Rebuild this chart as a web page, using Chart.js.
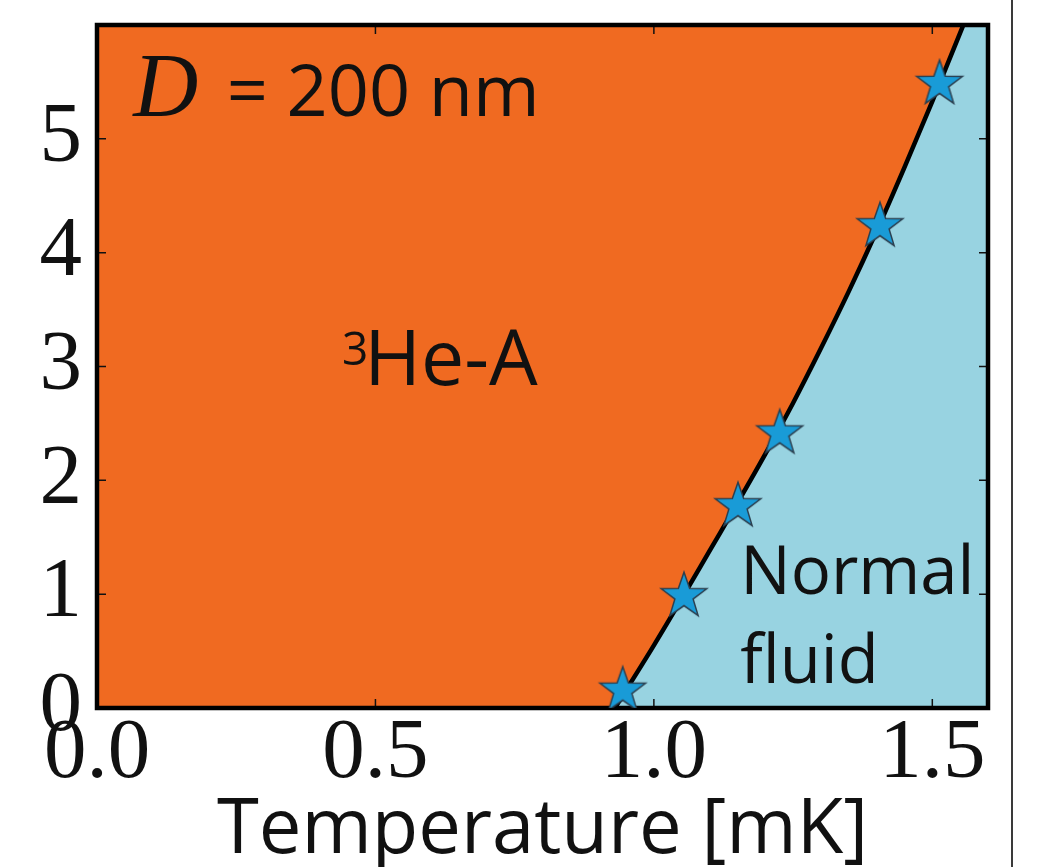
<!DOCTYPE html>
<html>
<head>
<meta charset="UTF-8">
<title>Phase diagram, D = 200 nm</title>
<script src="https://cdn.jsdelivr.net/npm/chart.js"></script>
<style>
    body { margin: 0; background: #fff; }
    #wrap { position: relative; width: 1046px; height: 867px; overflow: hidden; }
    #edge { position: absolute; left: 1011px; top: 0; width: 2px; height: 867px; background: #3a3a3a; }
</style>
</head>
<body>
<div id="wrap">
    <canvas id="phaseChart" width="1046" height="867"></canvas>
    <div id="edge"></div>
</div>
<script>
// phase boundary (T in mK, P in bar)
const curveT = [0.93, 1.00, 1.05, 1.10, 1.15, 1.20, 1.25, 1.30, 1.35, 1.40, 1.45, 1.50, 1.55, 1.60];
const curveP = [0.00, 0.55, 0.96, 1.38, 1.80, 2.23, 2.68, 3.16, 3.66, 4.19, 4.75, 5.33, 5.93, 6.54];

// measured transition points (stars)
const starT = [0.944, 1.054, 1.151, 1.226, 1.406, 1.513];
const starP = [0.17, 1.00, 1.79, 2.43, 4.25, 5.50];

const xTicks = [0.0, 0.5, 1.0, 1.5];
const yTicks = [0, 1, 2, 3, 4, 5];

const ORANGE = '#f06a21';
const BLUE = '#98d3e1';
const STAR = '#199bd7';

// text inside the plot, placed in data units
const notes = [
    { x: 0.065, y: 5.2, parts: [
        { text: 'D', font: 'italic 90px "Liberation Serif"' },
        { text: '= 200 nm', font: '72px "Open Sans"', at: 0.233 }
    ] },
    { x: 0.44, y: 2.84, parts: [
        { text: '3', font: '46px "Open Sans"', rise: 20 },
        { text: 'He-A', font: '77px "Open Sans"', at: 0.48 }
    ] },
    { x: 1.155, y: 1.0, parts: [{ text: 'Normal', font: '67px "Open Sans"' }] },
    { x: 1.155, y: 0.22, parts: [{ text: 'fluid', font: '67px "Open Sans"' }] }
];

// filled five point star used as the marker
function makeStar(r) {
    const c = document.createElement('canvas');
    const size = Math.ceil(r * 2 + 4);
    c.width = size; c.height = size;
    const g = c.getContext('2d');
    const cx = size / 2, cy = size / 2 + r * 0.08, ri = r * 0.4;
    g.beginPath();
    for (let i = 0; i < 10; i++) {
        const a = -Math.PI / 2 + i * Math.PI / 5;
        const rr = i % 2 === 0 ? r : ri;
        g.lineTo(cx + rr * Math.cos(a), cy + rr * Math.sin(a));
    }
    g.closePath();
    g.fillStyle = STAR;
    g.fill();
    g.lineWidth = 1.5;
    g.strokeStyle = '#2b3f4f';
    g.stroke();
    return c;
}

const phasePlugin = {
    id: 'phase',
    beforeDatasetsDraw(chart) {
        const { ctx, chartArea: a } = chart;
        ctx.save();
        ctx.fillStyle = ORANGE;
        ctx.fillRect(a.left, a.top, a.right - a.left, a.bottom - a.top);
        ctx.restore();
    },
    afterDatasetDraw(chart, args) {
        if (args.index !== 1) return;
        const { ctx, chartArea: a, scales } = chart;
        ctx.save();
        // labels
        ctx.fillStyle = '#111';
        ctx.textBaseline = 'alphabetic';
        ctx.textAlign = 'left';
        notes.forEach(n => {
            const y = scales.y.getPixelForValue(n.y);
            let x = scales.x.getPixelForValue(n.x);
            n.parts.forEach(p => {
                ctx.font = p.font;
                if (p.at !== undefined) x = scales.x.getPixelForValue(p.at);
                ctx.fillText(p.text, x, y - (p.rise || 0));
                x += ctx.measureText(p.text).width;
            });
        });
        // inward ticks
        ctx.strokeStyle = '#111';
        ctx.lineWidth = 1.5;
        ctx.beginPath();
        xTicks.forEach(v => {
            const px = scales.x.getPixelForValue(v);
            ctx.moveTo(px, a.bottom); ctx.lineTo(px, a.bottom - 9);
            ctx.moveTo(px, a.top); ctx.lineTo(px, a.top + 9);
        });
        yTicks.forEach(v => {
            const py = scales.y.getPixelForValue(v);
            ctx.moveTo(a.left, py); ctx.lineTo(a.left + 9, py);
            ctx.moveTo(a.right, py); ctx.lineTo(a.right - 9, py);
        });
        ctx.stroke();
        // frame
        ctx.lineWidth = 4.5;
        ctx.strokeStyle = '#000';
        ctx.strokeRect(a.left, a.top, a.right - a.left, a.bottom - a.top);
        ctx.restore();
    }
};

const tickFont = { family: '"Liberation Serif", "DejaVu Serif", serif', size: 85 };

new Chart(document.getElementById('phaseChart'), {
    type: 'scatter',
    data: {
        datasets: [
            {
                label: 'Measured',
                data: starT.map((t, i) => ({ x: t, y: starP[i] })),
                pointStyle: makeStar(24),
                pointRadius: 24,
                order: 0
            },
            {
                label: 'Boundary',
                type: 'line',
                data: curveT.map((t, i) => ({ x: t, y: curveP[i] })),
                borderColor: '#000',
                borderWidth: 4.5,
                pointRadius: 0,
                fill: 'origin',
                backgroundColor: BLUE,
                cubicInterpolationMode: 'monotone',
                order: 1
            }
        ]
    },
    options: {
        responsive: false,
        animation: false,
        layout: { padding: { top: 18, right: 58, left: 0, bottom: 0 } },
        plugins: { legend: { display: false }, tooltip: { enabled: false } },
        scales: {
            x: {
                type: 'linear',
                min: 0,
                max: 1.6,
                afterBuildTicks: s => { s.ticks = xTicks.map(v => ({ value: v })); },
                afterFit: s => { s.height = 159; s.paddingLeft = 0; s.paddingRight = 0; },
                grid: { display: false, drawTicks: false },
                border: { display: false },
                ticks: { font: tickFont, color: '#111', padding: -4, maxRotation: 0, callback: v => v.toFixed(1) },
                title: {
                    display: true,
                    text: 'Temperature [mK]',
                    color: '#111',
                    font: { family: '"Open Sans", sans-serif', size: 76, lineHeight: 1 },
                    padding: { top: 0, bottom: -2 }
                }
            },
            y: {
                type: 'linear',
                min: 0,
                max: 6,
                afterBuildTicks: s => { s.ticks = yTicks.map(v => ({ value: v })); },
                afterFit: s => { s.width = 97; s.paddingTop = 0; s.paddingBottom = 0; },
                grid: { display: false, drawTicks: false },
                border: { display: false },
                ticks: { font: tickFont, color: '#111', padding: 15, callback: v => String(v) }
            }
        }
    },
    plugins: [phasePlugin]
});
</script>
</body>
</html>
